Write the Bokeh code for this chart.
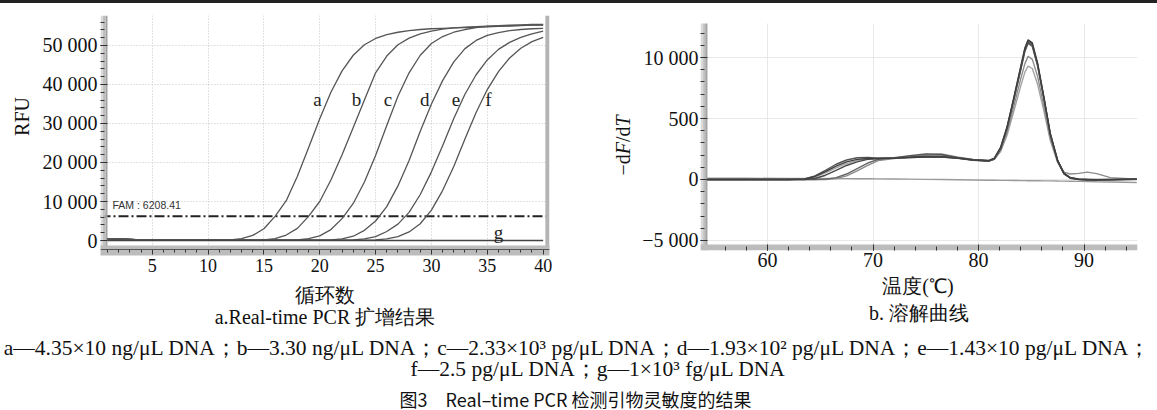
from math import pi
from bokeh.plotting import figure
from bokeh.models import Range1d, FixedTicker, BoxAnnotation, Span, Div
from bokeh.layouts import column, row
from bokeh.embed import file_html
from bokeh.resources import INLINE
from bokeh.core.properties import value

# ---------------- data: amplification (left) ----------------
cycles = list(range(1, 41))
rfu_a = [450, 380, 280, 180, 120, 90, 80, 70, 70, 80, 110, 150, 450, 1300, 3000, 6200, 10200, 16500,
         23800, 31200, 38000, 43500, 47500, 50200, 51800, 52800, 53400, 53800, 54100, 54300, 54400,
         54500, 54600, 54700, 54800, 54900, 55000, 55100, 55200, 55300]
rfu_b = [450, 380, 280, 180, 120, 90, 80, 70, 60, 60, 60, 60, 70, 90, 150, 500, 1400, 3100, 6200,
         10000, 15500, 22000, 29000, 36000, 43000, 47300, 50200, 51900, 53000, 53700, 54200, 54500,
         54700, 54850, 54950, 55050, 55100, 55150, 55200, 55250]
rfu_c = [450, 380, 280, 180, 120, 90, 80, 70, 60, 60, 60, 60, 60, 60, 60, 70, 90, 150, 450, 1200,
         2800, 5600, 9500, 15000, 21800, 29500, 37000, 43000, 47500, 50500, 52300, 53400, 54100,
         54600, 54900, 55100, 55200, 55300, 55400, 55400]
rfu_d = [450, 380, 280, 180, 120, 90, 80, 70, 60, 60, 60, 60, 60, 60, 60, 60, 60, 60, 70, 90, 150,
         400, 1100, 2600, 5000, 8700, 14000, 20500, 28000, 35000, 41000, 45800, 49200, 51300, 52600,
         53300, 53800, 54100, 54300, 54400]
rfu_e = [450, 380, 280, 180, 120, 90, 80, 70, 60, 60, 60, 60, 60, 60, 60, 60, 60, 60, 60, 60, 70, 90,
         150, 400, 1000, 2300, 4200, 7200, 11800, 17600, 24300, 31300, 37500, 42500, 46300, 49000,
         50800, 52100, 53000, 53700]
rfu_f = [450, 380, 280, 180, 120, 90, 80, 70, 60, 60, 60, 60, 60, 60, 60, 60, 60, 60, 60, 60, 60, 60,
         70, 90, 150, 400, 1000, 2200, 4300, 7800, 12800, 19000, 26000, 32800, 38700, 43300, 46800,
         49300, 51000, 52100]
rfu_g = [0, 0, 0, 0, 0, 0, 0, 0, 0, 0, 0, 0, 0, 0, 0, 0, 0, 0, 0, 0,
         0, 0, 0, 0, 0, 0, 0, 0, 0, 0, 0, 0, 0, 0, 0, 0, 0, 0, 0, 0]
threshold = 6208.41
curve_names = ["a", "b", "c", "d", "e", "f"]
x_ticks_left = [5, 10, 15, 20, 25, 30, 35, 40]
y_ticks_left = [0, 10000, 20000, 30000, 40000, 50000]
y_labels_left = ["0", "10 000", "20 000", "30 000", "40 000", "50 000"]

# ---------------- data: melting (right) ----------------
temps = [54.3, 58.0, 62.0, 63.5, 64.5, 65.5, 66.5, 67.5, 68.5, 69.5, 70.5, 72.0, 73.5, 75.0, 76.5,
         78.0, 79.5, 81.0, 81.5, 82.1, 82.7, 83.3, 84.0, 84.4, 84.7, 85.1, 85.6, 86.2, 86.8, 87.5,
         88.1, 88.7, 89.5, 90.3, 91.2, 92.5, 95.0]
melt_1 = [0, 0, 0, 30, 250, 650, 1100, 1450, 1650, 1720, 1720, 1750, 1800, 1850, 1850, 1750, 1600,
          1560, 1750, 2650, 4300, 6550, 9250, 10800, 11450, 11200, 9550, 6750, 3800, 1550, 480, 120,
          20, 0, -20, 0, 30]
melt_2 = [0, 0, 0, 50, 300, 750, 1250, 1600, 1780, 1800, 1750, 1780, 1950, 2100, 2050, 1800, 1620,
          1540, 1720, 2600, 4250, 6450, 9150, 10700, 11350, 11100, 9450, 6700, 3750, 1600, 520, 150,
          40, 10, 0, 10, 40]
melt_3 = [0, 0, 0, 0, 80, 350, 750, 1150, 1450, 1650, 1720, 1760, 1820, 1900, 1880, 1760, 1600,
          1520, 1700, 2550, 4200, 6400, 9050, 10600, 11250, 11000, 9400, 6650, 3700, 1500, 450, 100,
          0, -40, -50, -30, 20]
melt_4 = [0, 0, 0, 0, 0, 30, 150, 450, 900, 1350, 1650, 1760, 1800, 1850, 1850, 1740, 1580, 1500,
          1680, 2500, 4150, 6350, 8950, 10500, 11150, 10900, 9300, 6600, 3700, 1550, 500, 150, 30,
          0, -20, -10, 30]
melt_5 = [0, 0, 0, 0, 0, 0, 80, 300, 700, 1150, 1550, 1720, 1850, 2000, 2000, 1800, 1620, 1520,
          1650, 2400, 3850, 5850, 8250, 9500, 10100, 9850, 8450, 6000, 3400, 1450, 600, 450, 500,
          600, 480, 150, 30]
melt_6 = [0, 0, 0, 20, 200, 550, 950, 1300, 1550, 1700, 1720, 1750, 1850, 2050, 2100, 1850, 1650,
          1550, 1650, 2300, 3600, 5450, 7650, 8800, 9300, 9100, 7800, 5600, 3200, 1400, 500, 150, 0,
          -60, -80, -60, 0]
melt_g = [100, 100, 90, 85, 80, 80, 75, 70, 65, 60, 55, 40, 30, 10, 0, -20, -40, -60, -65, -70,
          -75, -80, -90, -95, -100, -100, -105, -110, -115, -125, -130, -140, -155, -170, -190,
          -210, -250]
x_ticks_right = [60, 70, 80, 90]
y_ticks_right = [-5000, 0, 5000, 10000]
y_labels_right = ["\u22125 000", "0", "500", "10 000"]

# ---------------- text ----------------
x_title_a = "循环数"
x_title_b = "温度(℃)"
caption_a = "a.Real-time PCR 扩增结果"
caption_b = "b. 溶解曲线"
legend_line1 = ("a\u20144.35×10 ng/μL DNA；b\u20143.30 ng/μL DNA；c\u20142.33×10³ pg/μL DNA；"
                "d\u20141.93×10² pg/μL DNA；e\u20141.43×10 pg/μL DNA；")
legend_line2 = "f\u20142.5 pg/μL DNA；g\u20141×10³ fg/μL DNA"
fig_title = "图3　Real\u2013time PCR 检测引物灵敏度的结果"

SERIF = "Liberation Serif"
LINE_GRAY = "#555555"
ROW_H = 333          # page rows 3..336
BORDER_TOP = 12      # frames start at page row 15
BORDER_BOTTOM = 86   # frames end at page row 250


def style_axis(ax, label_size):
    ax.axis_line_color = None
    ax.major_tick_in = 7
    ax.major_tick_out = 0
    ax.minor_tick_in = 4
    ax.minor_tick_out = 0
    ax.major_tick_line_color = "#333333"
    ax.minor_tick_line_color = "#333333"
    ax.major_label_text_font = SERIF
    ax.major_label_text_font_size = label_size
    ax.major_label_text_font_style = "normal"
    ax.major_label_text_color = "#111111"
    ax.major_label_standoff = 3
    ax.axis_label_text_font = SERIF
    ax.axis_label_text_font_size = "20px"
    ax.axis_label_text_font_style = "normal"
    ax.axis_label_text_color = "#111111"


def text_panel(w, h, top=0, bottom=0):
    f = figure(width=w, height=h, x_range=Range1d(0, w), y_range=Range1d(0, h - top - bottom),
               x_axis_type=None, y_axis_type=None, toolbar_location=None, output_backend="svg",
               min_border=0, min_border_top=top, min_border_bottom=bottom, outline_line_color=None)
    f.grid.visible = False
    return f


# ---------------- top rule ----------------
top = Div(text="", width=1157, height=3, margin=0, styles={"background-color": "#222222"})

# ---------------- left y-title panel ----------------
ylab1 = text_panel(36, ROW_H, BORDER_TOP, BORDER_BOTTOM)
ylab1.text(x=[21], y=[134], text=["RFU"], angle=pi / 2, text_font=value(SERIF),
           text_font_size="20px", text_align="center", text_baseline="middle", text_color="#111111")

# ---------------- left plot ----------------
p1 = figure(width=564, height=ROW_H, x_range=Range1d(0.373, 40.57), y_range=Range1d(-2564, 57692),
            toolbar_location=None, output_backend="svg", outline_line_color=None,
            min_border_left=64, min_border_right=51, min_border_top=BORDER_TOP,
            min_border_bottom=BORDER_BOTTOM)
xa = p1.xaxis[0]
style_axis(xa, "18px")
xa.axis_line_color = "#bcbcbc"
xa.axis_line_width = 10
xa.major_tick_in = 1
xa.major_tick_out = 4
xa.minor_tick_in = 1
xa.minor_tick_out = 2
xa.major_label_standoff = 4
xa.ticker = FixedTicker(ticks=x_ticks_left, minor_ticks=cycles)
xa.axis_label = x_title_a + "\n" + caption_a
xa.axis_label_text_line_height = 1.0
xa.axis_label_standoff = 9
ya = p1.yaxis[0]
style_axis(ya, "20px")
ya.ticker = FixedTicker(ticks=y_ticks_left, minor_ticks=list(range(0, 57000, 2000)))
ya.major_label_overrides = {t: s for t, s in zip(y_ticks_left, y_labels_left)}

p1.xgrid.ticker = FixedTicker(ticks=x_ticks_left[:-1])
p1.ygrid.ticker = FixedTicker(ticks=y_ticks_left[1:])
for g in (p1.xgrid[0], p1.ygrid[0]):
    g.grid_line_color = "#c4c4c4"
    g.grid_line_dash = "1 2"

p1.add_layout(Span(location=threshold, dimension="width", line_color="#222222", line_width=2,
                   line_dash="10 3 2 3", level="underlay"))

for series in (rfu_a, rfu_b, rfu_c, rfu_d, rfu_e, rfu_f):
    p1.line(cycles, series, line_color=LINE_GRAY, line_width=1.3)
p1.line(cycles, rfu_g, line_color="#444444", line_width=1.4)

for lft, rgt, col in ((None, 0.6, "#dadada"), (0.6, 0.82, "#bfbfbf"), (0.82, 1.0, "#a4a4a4")):
    p1.add_layout(BoxAnnotation(left=lft, right=rgt, fill_color=col, fill_alpha=1,
                                line_color=None, level="underlay"))
p1.add_layout(BoxAnnotation(left=40.2, fill_color="#b4b4b4", fill_alpha=1, line_color=None,
                            level="underlay"))
p1.add_layout(Span(location=-2308, dimension="width", line_color="#555555", line_width=1))

lab_x = [19.8, 23.3, 26.1, 29.4, 32.2, 35.1]
lab_y = [36150, 36150, 36150, 36150, 36150, 36150]
p1.text(x=lab_x, y=lab_y, text=curve_names, text_font=value(SERIF), text_font_size="19px",
        text_align="center", text_baseline="middle", text_color="#222222")
p1.text(x=[36.0], y=[2000], text=["g"], text_font=value(SERIF), text_font_size="19px",
        text_align="center", text_baseline="middle", text_color="#222222")
p1.text(x=[1.45], y=[9100], text=["FAM : %.2f" % threshold], text_font=value("Liberation Sans"),
        text_font_size="10.5px", text_align="left", text_baseline="middle", text_color="#333333")

# ---------------- right y-title panel ----------------
ylab2 = text_panel(36, ROW_H, BORDER_TOP, BORDER_BOTTOM)
for txt, yy, style in (("\u2212d", 75, "normal"), ("F", 96.3, "italic"), ("/d", 108.5, "normal"),
                       ("T", 124.1, "italic")):
    ylab2.text(x=[22], y=[yy], text=[txt], angle=pi / 2, text_font=value(SERIF),
               text_font_size="20px", text_font_style=style, text_align="left",
               text_baseline="middle", text_color="#111111")

# ---------------- right plot (frame page rows 15..250, data area from row 23) ----------------
Y_TOP_R = 12787
p2 = figure(width=521, height=ROW_H, x_range=Range1d(53.65, 95.07), y_range=Range1d(-5820, 13443),
            toolbar_location=None, output_backend="svg", outline_line_color=None,
            min_border_left=64, min_border_right=20, min_border_top=BORDER_TOP,
            min_border_bottom=BORDER_BOTTOM)
xb = p2.xaxis[0]
style_axis(xb, "20px")
xb.major_tick_in = 6
xb.ticker = FixedTicker(ticks=x_ticks_right, minor_ticks=list(range(56, 96, 2)))
xb.major_label_standoff = 2
xb.axis_label = x_title_b + "\n" + caption_b
xb.axis_label_text_line_height = 1.25
xb.axis_label_standoff = 5
yb = p2.yaxis[0]
style_axis(yb, "20px")
yb.major_label_standoff = 2
yb.ticker = FixedTicker(ticks=y_ticks_right, minor_ticks=list(range(-5000, 13000, 1000)))
yb.major_label_overrides = {t: s for t, s in zip(y_ticks_right, y_labels_right)}
p2.xgrid.ticker = FixedTicker(ticks=x_ticks_right)
p2.ygrid.ticker = FixedTicker(ticks=y_ticks_right)
for g in (p2.xgrid[0], p2.ygrid[0]):
    g.grid_line_color = "#e8e8e8"

melt_colors = ["#3f3f3f", "#555555", "#4a4a4a", "#666666", "#8c8c8c", "#a3a3a3"]
p2.line(temps, melt_g, line_color="#9a9a9a", line_width=1.4)
for series, col in zip((melt_6, melt_5, melt_4, melt_3, melt_2, melt_1), melt_colors[::-1]):
    p2.line(temps, series, line_color=col, line_width=1.4)

p2.add_layout(BoxAnnotation(bottom=Y_TOP_R, fill_color="white", fill_alpha=1, line_color=None,
                            level="underlay"))
for lft, rgt, col in ((None, 53.9, "#dadada"), (53.9, 54.1, "#bfbfbf"), (54.1, 54.31, "#a4a4a4")):
    p2.add_layout(BoxAnnotation(left=lft, right=rgt, top=Y_TOP_R, fill_color=col,
                                fill_alpha=1, line_color=None, level="underlay"))
p2.add_layout(BoxAnnotation(top=-5328, fill_color="#bcbcbc", fill_alpha=1,
                            line_color=None, level="underlay"))

# ---------------- captions panel (page rows 336..410, y measured up from page bottom) -------------
p3 = text_panel(1157, 74)
p3.text(x=[578.5], y=[63], text=[legend_line1], text_font=value(SERIF),
        text_font_size="21.5px", text_align="center", text_baseline="middle", text_color="#111111")
p3.text(x=[598], y=[42], text=[legend_line2], text_font=value(SERIF),
        text_font_size="21.5px", text_align="center", text_baseline="middle", text_color="#111111")
p3.text(x=[399], y=[12], text=[fig_title], text_font=value("Noto Sans CJK SC"),
        text_font_size="18px", text_align="left", text_baseline="middle", text_color="#111111")

layout = column(top, row(ylab1, p1, ylab2, p2), p3)
open("out.html", "w").write(file_html(layout, INLINE))
